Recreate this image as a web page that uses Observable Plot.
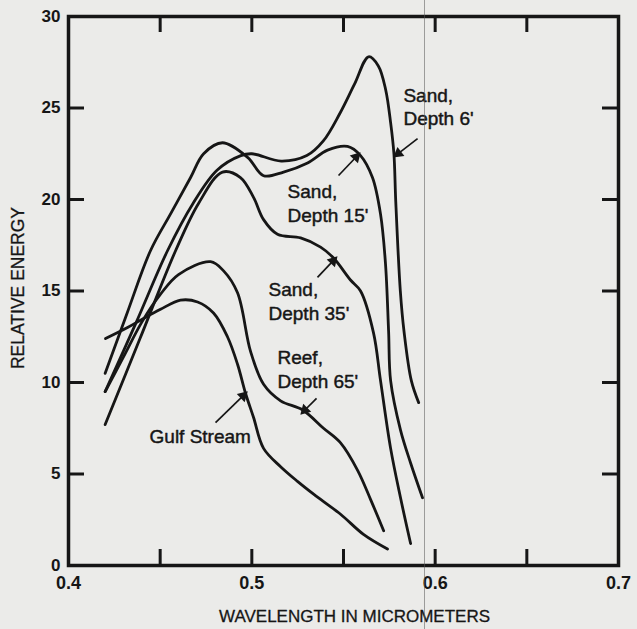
<!DOCTYPE html>
<html>
<head>
<meta charset="utf-8">
<script src="https://cdn.jsdelivr.net/npm/d3@7"></script>
<script src="https://cdn.jsdelivr.net/npm/@observablehq/plot@0.6"></script>
<style>
  html, body { margin: 0; padding: 0; background: #ebebe9; }
  #wrap { position: relative; width: 637px; height: 629px; overflow: hidden; }
  #fold { position: absolute; left: 424px; top: 0; width: 1px; height: 629px; background: rgba(90,90,90,0.55); pointer-events: none; }
</style>
</head>
<body>
<div id="wrap"><div id="fold"></div></div>
<script>
// ---- data (wavelength in micrometers, relative energy) ----
const sand6X  = [0.420, 0.437, 0.454, 0.468, 0.481, 0.494, 0.500, 0.516, 0.530, 0.539, 0.548, 0.556, 0.5637, 0.569, 0.573, 0.5757, 0.5775, 0.5785, 0.581, 0.583, 0.587, 0.591];
const sand6Y  = [9.5, 13.3, 17.2, 19.8, 21.6, 22.4, 22.5, 22.1, 22.4, 23.2, 24.7, 26.3, 27.8, 27.3, 26.0, 24.2, 22.5, 19.9, 15.0, 12.8, 10.1, 8.9];

const sand15X = [0.420, 0.432, 0.4447, 0.4556, 0.4666, 0.4737, 0.484, 0.4977, 0.5064, 0.5173, 0.5304, 0.5413, 0.5522, 0.5593, 0.5658, 0.5702, 0.5729, 0.5746, 0.5757, 0.5811, 0.5866, 0.5931];
const sand15Y = [10.5, 13.8, 17.2, 19.2, 21.2, 22.5, 23.1, 22.3, 21.3, 21.5, 22.0, 22.7, 22.9, 22.4, 21.2, 19.2, 16.5, 12.8, 10.1, 7.4, 5.6, 3.7];

const sand35X = [0.420, 0.439, 0.4584, 0.471, 0.484, 0.4938, 0.501, 0.5064, 0.514, 0.5266, 0.5375, 0.5446, 0.5538, 0.5593, 0.5664, 0.5702, 0.5757, 0.5811, 0.5866];
const sand35Y = [7.7, 12.4, 17.2, 19.8, 21.5, 21.2, 20.1, 18.9, 18.1, 17.9, 17.4, 16.8, 15.6, 15.0, 12.7, 10.1, 6.4, 3.7, 1.2];

const reefX   = [0.420, 0.430, 0.440, 0.450, 0.460, 0.4775, 0.4846, 0.4922, 0.4993, 0.5064, 0.5157, 0.5277, 0.5391, 0.5484, 0.5577, 0.5648, 0.5719];
const reefY   = [9.5, 11.4, 13.3, 14.8, 15.9, 16.6, 16.1, 14.9, 11.7, 9.9, 9.0, 8.5, 7.5, 6.7, 5.2, 3.6, 1.9];

const gulfX   = [0.4202, 0.4322, 0.4409, 0.4502, 0.4611, 0.4704, 0.4791, 0.4867, 0.4922, 0.4966, 0.5009, 0.5064, 0.5157, 0.5249, 0.5337, 0.5484, 0.5609, 0.574];
const gulfY   = [12.4, 13.0, 13.5, 14.0, 14.5, 14.4, 13.8, 12.5, 11.0, 9.4, 8.1, 6.4, 5.4, 4.6, 3.9, 2.8, 1.7, 0.9];

const seriesNames = ["Sand, Depth 6'", "Sand, Depth 15'", "Sand, Depth 35'", "Reef, Depth 65'", "Gulf Stream"];
const seriesXs = [sand6X, sand15X, sand35X, reefX, gulfX];
const seriesYs = [sand6Y, sand15Y, sand35Y, reefY, gulfY];

// tick values
const xTickLabels = [0.4, 0.5, 0.6, 0.7];
const xTickMarks  = [0.45, 0.5, 0.55, 0.6, 0.65];
const yTickLabels = [0, 5, 10, 15, 20, 25, 30];
const yTickMarks  = [5, 10, 15, 20, 25];

// annotations (data coordinates)
const labelText = ["Sand,\nDepth 6'", "Sand,\nDepth 15'", "Sand,\nDepth 35'", "Reef,\nDepth 65'", "Gulf Stream"];
const labelX    = [0.5827, 0.5195, 0.5091, 0.5140, 0.4442];
const labelY    = [25.11, 19.86, 14.48, 10.79, 7.10];

const arrowX1 = [0.5904, 0.5473, 0.5358, 0.5353, 0.4802];
const arrowY1 = [23.33, 21.31, 15.74, 9.13, 7.81];
const arrowX2 = [0.5784, 0.5582, 0.5456, 0.5276, 0.4966];
const arrowY2 = [22.40, 22.46, 16.78, 8.36, 9.40];

const xTitle = "WAVELENGTH IN MICROMETERS";
const yTitle = "RELATIVE ENERGY";

// ---- build tables ----
const curveData = seriesNames.flatMap((name, i) => seriesXs[i].map((x, j) => ({series: name, x, y: seriesYs[i][j]})));
const labels = labelText.map((t, i) => ({t, x: labelX[i], y: labelY[i]}));
const arrows = arrowX1.map((x1, i) => ({x1, y1: arrowY1[i], x2: arrowX2[i], y2: arrowY2[i]}));

const W = 637, H = 629, mt = 16, mb = 64, ml = 68, mr = 19;
const innerH = H - mt - mb, innerW = W - ml - mr;
const tick = 16;
const ink = "#161616";
const font = "'Liberation Sans', Arial, Helvetica, sans-serif";

function build(heads) {
  return Plot.plot({
    width: W, height: H,
    marginTop: mt, marginBottom: mb, marginLeft: ml, marginRight: mr,
    x: {domain: [0.4, 0.7]},
    y: {domain: [0, 30]},
    style: {fontFamily: font, background: "transparent", color: ink},
    marks: [
      Plot.line(curveData, {x: "x", y: "y", z: "series", curve: "catmull-rom", stroke: ink, strokeWidth: 2.8}),
      Plot.tickX(xTickMarks, {x: d => d, insetTop: innerH - tick, stroke: ink, strokeWidth: 3}),
      Plot.tickX(xTickMarks, {x: d => d, insetBottom: innerH - tick, stroke: ink, strokeWidth: 3}),
      Plot.tickY(yTickMarks, {y: d => d, insetRight: innerW - tick, stroke: ink, strokeWidth: 3}),
      Plot.tickY(yTickMarks, {y: d => d, insetLeft: innerW - tick, stroke: ink, strokeWidth: 3}),
      Plot.frame({stroke: ink, strokeWidth: 3.5}),
      Plot.axisX({ticks: xTickLabels, tickSize: 0, tickPadding: 11, tickFormat: d3.format(".1f"), label: null, fontSize: 18, fontWeight: "bold", fill: ink}),
      Plot.axisY({ticks: yTickLabels, tickSize: 0, tickPadding: 8, tickFormat: d3.format("d"), label: null, fontSize: 17, fontWeight: "bold", fill: ink}),
      Plot.text([xTitle], {frameAnchor: "bottom", textAnchor: "middle", lineAnchor: "middle", dx: 11, dy: 51, fontSize: 17, fill: ink, stroke: ink, strokeWidth: 0.3, text: d => d}),
      Plot.text([yTitle], {frameAnchor: "left", textAnchor: "middle", lineAnchor: "middle", rotate: -90, dx: -50, dy: -3, fontSize: 17.5, fill: ink, stroke: ink, strokeWidth: 0.3, text: d => d}),
      Plot.text(labels, {x: "x", y: "y", text: "t", textAnchor: "start", lineAnchor: "middle", lineHeight: 1.25, fontSize: 19, fill: ink, stroke: ink, strokeWidth: 0.45}),
      Plot.link(arrows, {x1: "x1", y1: "y1", x2: "x2", y2: "y2", stroke: ink, strokeWidth: 1.7}),
      ...(heads ? [Plot.dot(heads, {x: "x", y: "y", rotate: "r", symbol: "triangle", r: 4.2, fill: ink, stroke: "none"})] : [])
    ]
  });
}

// first pass gives the scales; heads are oriented along each arrow in screen space
const probe = build(null);
const sx = probe.scale("x"), sy = probe.scale("y");
const heads = arrows.map(a => {
  const px1 = sx.apply(a.x1), py1 = sy.apply(a.y1), px2 = sx.apply(a.x2), py2 = sy.apply(a.y2);
  const dx = px2 - px1, dy = py2 - py1, len = Math.hypot(dx, dy);
  const ux = dx / len, uy = dy / len;
  const cx = px2 - ux * 3.5, cy = py2 - uy * 3.5;
  return {x: sx.invert(cx), y: sy.invert(cy), r: Math.atan2(dx, -dy) * 180 / Math.PI};
});
const chart = build(heads);
document.getElementById("wrap").prepend(chart);
</script>
</body>
</html>
